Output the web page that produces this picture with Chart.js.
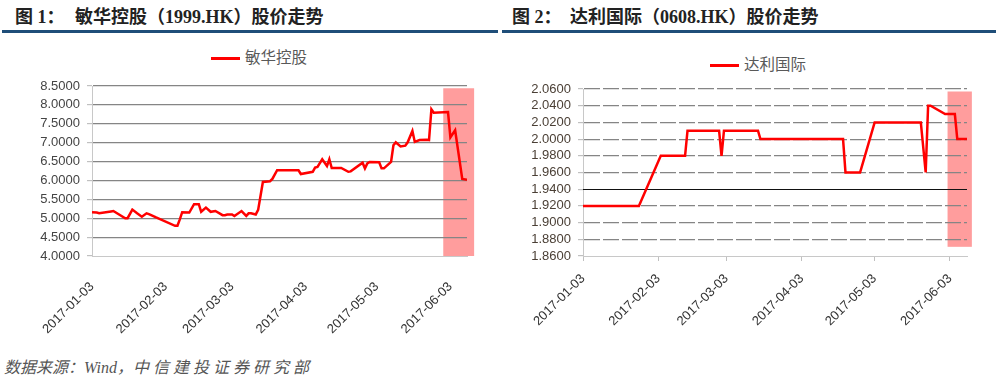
<!DOCTYPE html>
<html>
<head>
<meta charset="utf-8">
<script src="https://cdn.jsdelivr.net/npm/chart.js@4.4.0/dist/chart.umd.min.js"></script>
<style>
    body { margin: 0; width: 1000px; height: 377px; background: #fff; position: relative; overflow: hidden; }
    .title { position: absolute; top: 2px; font: bold 18px "Liberation Serif", "Noto Sans CJK SC", serif; color: #222; white-space: nowrap; }
    .title .num { display: inline-block; width: 60px; }
    .rule { position: absolute; top: 30px; height: 3px; background: #1f4e79; }
    .legend { position: absolute; font: 15.5px "Noto Sans CJK SC", sans-serif; color: #595959; white-space: nowrap; line-height: 20px; }
    .legend i { display: inline-block; width: 29px; height: 3px; background: #ff0000; vertical-align: middle; margin-right: 5px; }
    canvas { position: absolute; top: 40px; }
    .source { position: absolute; left: 4px; top: 354px; font: italic 16px "Liberation Serif", "Noto Sans CJK SC", serif; color: #555; white-space: nowrap; }
    .source span { letter-spacing: 4px; }
</style>
</head>
<body>
<div class="title" style="left:15px"><span class="num">图 1：</span>敏华控股（1999.HK）股价走势</div>
<div class="rule" style="left:2px;width:496px"></div>
<div class="title" style="left:512px"><span class="num" style="width:58px">图 2：</span>达利国际（0608.HK）股价走势</div>
<div class="rule" style="left:502px;width:494px"></div>

<div class="legend" style="left:211px;top:46px"><i></i>敏华控股</div>
<div class="legend" style="left:710px;top:53px"><i></i>达利国际</div>

<canvas id="chart1" width="500" height="300" style="left:0"></canvas>
<canvas id="chart2" width="500" height="300" style="left:500px"></canvas>

<div class="source">数据来源：Wind，<span>中信建投证券研究部</span></div>

<script>
const START = '2017-01-03';
const END = '2017-06-10';
const tickDates = ['2017-01-03', '2017-02-03', '2017-03-03', '2017-04-03', '2017-05-03', '2017-06-03'];

// 敏华控股 1999.HK
const minhuaDates = [
    '2017-01-03', '2017-01-05', '2017-01-06', '2017-01-11', '2017-01-12', '2017-01-17', '2017-01-18', '2017-01-20',
    '2017-01-22', '2017-01-24', '2017-01-26', '2017-01-27', '2017-01-30', '2017-02-07', '2017-02-08', '2017-02-09',
    '2017-02-10', '2017-02-13', '2017-02-15', '2017-02-17', '2017-02-18', '2017-02-20', '2017-02-22', '2017-02-24',
    '2017-02-27', '2017-02-28', '2017-03-01', '2017-03-03', '2017-03-04', '2017-03-07', '2017-03-09', '2017-03-10',
    '2017-03-11', '2017-03-13', '2017-03-14', '2017-03-16', '2017-03-19', '2017-03-20', '2017-03-22', '2017-03-28',
    '2017-03-31', '2017-04-01', '2017-04-06', '2017-04-07', '2017-04-08', '2017-04-10', '2017-04-12', '2017-04-13',
    '2017-04-14', '2017-04-18', '2017-04-21', '2017-04-22', '2017-04-27', '2017-04-28', '2017-04-29', '2017-04-30',
    '2017-05-04', '2017-05-05', '2017-05-06', '2017-05-09', '2017-05-10', '2017-05-11', '2017-05-13', '2017-05-15',
    '2017-05-16', '2017-05-18', '2017-05-19', '2017-05-21', '2017-05-24', '2017-05-25', '2017-05-26', '2017-05-27',
    '2017-06-02', '2017-06-03', '2017-06-05', '2017-06-08', '2017-06-10'
];
const minhuaPrices = [
    5.16, 5.15, 5.13, 5.18, 5.19, 5.00, 5.00, 5.23,
    5.13, 5.04, 5.13, 5.11, 5.02, 4.80, 4.80, 4.97,
    5.16, 5.15, 5.37, 5.37, 5.17, 5.28, 5.17, 5.19,
    5.08, 5.08, 5.10, 5.10, 5.06, 5.19, 5.06, 5.13,
    5.13, 5.10, 5.22, 5.96, 5.98, 6.04, 6.27, 6.27,
    6.27, 6.17, 6.23, 6.34, 6.36, 6.56, 6.38, 6.56,
    6.33, 6.33, 6.23, 6.24, 6.47, 6.32, 6.45, 6.49,
    6.48, 6.32, 6.32, 6.49, 6.93, 7.01, 6.90, 6.92,
    7.01, 7.31, 7.02, 7.07, 7.08, 7.07, 7.88, 7.79,
    7.81, 7.14, 7.33, 6.04, 6.02
];

// 达利国际 0608.HK
const daliDates = [
    '2017-01-03', '2017-01-26', '2017-02-04', '2017-02-14', '2017-02-15', '2017-02-28', '2017-03-01', '2017-03-02',
    '2017-03-16', '2017-03-17', '2017-04-20', '2017-04-21', '2017-04-27', '2017-04-29', '2017-05-03', '2017-05-22',
    '2017-05-24', '2017-05-25', '2017-05-26', '2017-06-01', '2017-06-05', '2017-06-06', '2017-06-10'
];
const daliPrices = [
    1.92, 1.92, 1.98, 1.98, 2.01, 2.01, 1.98, 2.01,
    2.01, 2.00, 2.00, 1.96, 1.96, 1.98, 2.02, 2.02,
    1.96, 2.04, 2.04, 2.03, 2.03, 2.00, 2.00
];

// y axis ranges
const minhuaAxis = { min: 4.0, max: 8.5, step: 0.5 };
const daliAxis = { min: 1.86, max: 2.06, step: 0.02 };

// highlighted period
const minhuaShade = { from: '2017-05-31', to: '2017-06-13', top: 8.44, bottom: 4.0 };
const daliShade = { from: '2017-06-02', to: '2017-06-12', top: 2.057, bottom: 1.871 };

function day(d) {
    return (Date.parse(d) - Date.parse(START)) / 864e5;
}

const shadePlugin = {
    id: 'shade',
    beforeDraw(chart, args, opts) {
        const x = chart.scales.x, y = chart.scales.y, ctx = chart.ctx;
        const left = x.getPixelForValue(day(opts.from));
        const right = x.getPixelForValue(day(opts.to));
        const top = y.getPixelForValue(opts.top);
        const bottom = y.getPixelForValue(opts.bottom);
        ctx.save();
        ctx.fillStyle = '#ff9d9d';
        ctx.fillRect(left, top, right - left, bottom - top);
        ctx.restore();
    }
};

const solidLinePlugin = {
    id: 'solidLine',
    beforeDatasetsDraw(chart, args, opts) {
        if (opts.value === undefined) return;
        const y = chart.scales.y.getPixelForValue(opts.value);
        const ctx = chart.ctx;
        ctx.save();
        ctx.strokeStyle = '#111';
        ctx.lineWidth = 1;
        ctx.beginPath();
        ctx.moveTo(chart.chartArea.left, Math.round(y) + 0.5);
        ctx.lineTo(chart.chartArea.right, Math.round(y) + 0.5);
        ctx.stroke();
        ctx.restore();
    }
};

function makeChart(id, dates, prices, axis, shade, cfg) {
    const points = dates.map((d, i) => ({ x: day(d), y: prices[i] }));
    return new Chart(document.getElementById(id), {
        type: 'line',
        data: {
            datasets: [{
                data: points,
                borderColor: '#ff0000',
                backgroundColor: '#ff0000',
                borderWidth: 2.5,
                pointRadius: 0,
                tension: 0
            }]
        },
        options: {
            responsive: false,
            animation: false,
            layout: { padding: { top: cfg.top, right: 33, left: 0, bottom: 0 } },
            scales: {
                x: {
                    type: 'linear',
                    min: 0,
                    max: day(END),
                    afterBuildTicks: s => { s.ticks = tickDates.map(d => ({ value: day(d) })); },
                    afterFit: s => { s.height = 84; },
                    grid: {
                        display: cfg.xTicks,
                        drawOnChartArea: false,
                        tickLength: 5,
                        tickColor: '#c0c0c0'
                    },
                    border: { color: '#c8c8c8', width: 1 },
                    ticks: {
                        autoSkip: false,
                        minRotation: 45,
                        maxRotation: 45,
                        padding: cfg.xPad,
                        color: '#333',
                        font: { family: 'Liberation Sans', size: 13 },
                        callback: v => tickDates.find(d => Math.abs(day(d) - v) < 0.01) || ''
                    }
                },
                y: {
                    min: axis.min,
                    max: axis.max,
                    afterFit: s => { s.width = cfg.yWidth; },
                    grid: {
                        color: c => (Math.abs(c.tick.value - axis.min) < 1e-6 || (cfg.solid !== undefined && Math.abs(c.tick.value - cfg.solid) < 1e-6)) ? 'rgba(0,0,0,0)' : '#858585',
                        lineWidth: 1.2,
                        tickLength: 5,
                        tickColor: '#c0c0c0'
                    },
                    border: { color: '#c8c8c8', width: 1, dash: cfg.dash },
                    ticks: {
                        stepSize: axis.step,
                        autoSkip: false,
                        padding: 7,
                        color: cfg.yColor,
                        font: { family: 'Liberation Sans', size: 13 },
                        callback: v => v.toFixed(4)
                    }
                }
            },
            plugins: {
                legend: { display: false },
                tooltip: { enabled: false },
                shade: shade,
                solidLine: { value: cfg.solid }
            }
        },
        plugins: [shadePlugin, solidLinePlugin]
    });
}

makeChart('chart1', minhuaDates, minhuaPrices, minhuaAxis, minhuaShade,
    { top: 46, yWidth: 92, xTicks: false, xPad: 18, yColor: '#444', dash: [] });
makeChart('chart2', daliDates, daliPrices, daliAxis, daliShade,
    { top: 49, yWidth: 83, xTicks: true, xPad: 10, yColor: '#4a3f35', dash: [16, 3], solid: 1.94 });
</script>
</body>
</html>
